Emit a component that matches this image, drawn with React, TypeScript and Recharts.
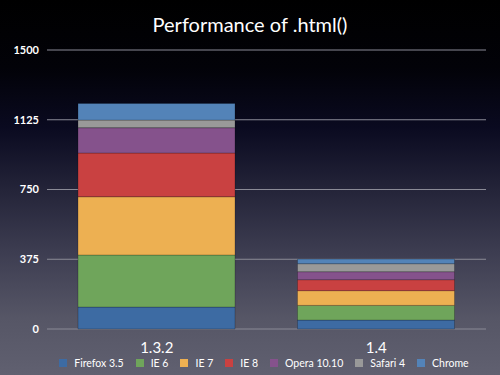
import React from 'react';
import { BarChart, Bar, XAxis, YAxis, CartesianGrid } from 'recharts';

// jQuery versions on the x axis
const versions = ['1.3.2', '1.4'];

// one value per version, stacked bottom-up in this order
const firefox35 = [118, 48];
const ie6 = [280, 79];
const ie7 = [313, 79];
const ie8 = [235, 59];
const opera1010 = [136, 43];
const safari4 = [41, 43];
const chrome = [90, 25];

const yTicks = [0, 375, 750, 1125, 1500];

const series = [
  { key: 'firefox', name: 'Firefox 3.5', values: firefox35, color: '#3d6ba3' },
  { key: 'ie6', name: 'IE 6', values: ie6, color: '#6fa55b' },
  { key: 'ie7', name: 'IE 7', values: ie7, color: '#edb052' },
  { key: 'ie8', name: 'IE 8', values: ie8, color: '#c94141' },
  { key: 'opera', name: 'Opera 10.10', values: opera1010, color: '#85528c' },
  { key: 'safari', name: 'Safari 4', values: safari4, color: '#999999' },
  { key: 'chrome', name: 'Chrome', values: chrome, color: '#5383b8' },
];

const data = versions.map((v, i) => {
  const row: Record<string, string | number> = { name: v };
  series.forEach((s) => {
    row[s.key] = s.values[i];
  });
  return row;
});

const FONT = 'Lato, "Open Sans", sans-serif';

// legend sits under the category labels, built from the same series list
function ChartLegend() {
  return (
    <div
      style={{
        position: 'absolute',
        top: 357,
        left: 14,
        width: 500,
        display: 'flex',
        justifyContent: 'center',
        alignItems: 'center',
        gap: 12,
        fontFamily: FONT,
        fontSize: 10.5,
        color: '#ffffff',
      }}
    >
      {series.map((s) => (
        <div key={s.key} style={{ display: 'flex', alignItems: 'center' }}>
          <span
            style={{
              display: 'inline-block',
              width: 8,
              height: 8,
              background: s.color,
              marginRight: 7,
            }}
          />
          <span>{s.name}</span>
        </div>
      ))}
    </div>
  );
}

export default function App(): JSX.Element {
  return (
    <div
      style={{
        position: 'absolute',
        left: 0,
        top: 0,
        width: 500,
        height: 375,
        overflow: 'hidden',
        background:
          'linear-gradient(to bottom, #000000 0%, #020208 18%, #0a0a20 34%, #232338 50%, #3e3e52 68%, #565666 85%, #606070 100%)',
        fontFamily: FONT,
      }}
    >
      <div
        style={{
          position: 'absolute',
          top: 12,
          width: 500,
          textAlign: 'center',
          color: '#ffffff',
          fontSize: 20,
          fontFamily: FONT,
        }}
      >
        Performance of .html()
      </div>
      <BarChart
        width={500}
        height={375}
        data={data}
        margin={{ top: 50, right: 14, left: 0, bottom: 20 }}
        barSize={157}
      >
        <CartesianGrid vertical={false} stroke="#8a8a96" strokeWidth={1} />
        <XAxis
          dataKey="name"
          axisLine={false}
          tickLine={false}
          tickMargin={7}
          height={26}
          tick={{ fill: '#ffffff', fontSize: 15, fontFamily: FONT }}
        />
        <YAxis
          domain={[0, 1500]}
          ticks={yTicks}
          width={47}
          axisLine={false}
          tickLine={false}
          tick={{ fill: '#ffffff', fontSize: 11, fontWeight: 700, fontFamily: FONT }}
        />
        {series.map((s) => (
          <Bar
            key={s.key}
            dataKey={s.key}
            name={s.name}
            stackId="a"
            fill={s.color}
            stroke="rgba(0,0,0,0.22)"
            strokeWidth={1}
            isAnimationActive={false}
          />
        ))}
      </BarChart>
      <ChartLegend />
    </div>
  );
}
